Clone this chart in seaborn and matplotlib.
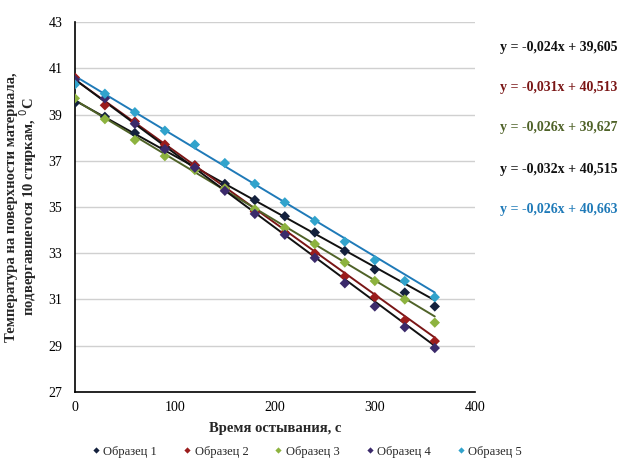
import numpy as np
import pandas as pd
import matplotlib
matplotlib.use('Agg')
import matplotlib.pyplot as plt
import seaborn as sns

# Данные
time_s = [0, 30, 60, 90, 120, 150, 180, 210, 240, 270, 300, 330, 360]
sample_1 = [39.5, 38.9, 38.2, 37.6, 36.8, 36.0, 35.3, 34.6, 33.9, 33.1, 32.3, 31.3, 30.7]
sample_2 = [40.6, 39.4, 38.7, 37.7, 36.8, 35.8, 34.8, 33.9, 33.0, 32.0, 31.1, 30.1, 29.2]
sample_3 = [39.7, 38.8, 37.9, 37.2, 36.6, 35.8, 34.9, 34.1, 33.4, 32.6, 31.8, 31.0, 30.0]
sample_4 = [40.5, 39.7, 38.6, 37.5, 36.7, 35.7, 34.7, 33.8, 32.8, 31.7, 30.7, 29.8, 28.9]
sample_5 = [40.3, 39.9, 39.1, 38.3, 37.7, 36.9, 36.0, 35.2, 34.4, 33.5, 32.7, 31.8, 31.1]
labels = ['Образец 1', 'Образец 2', 'Образец 3', 'Образец 4', 'Образец 5']

# коэффициенты линий тренда (из уравнений на графике)
slopes = [-0.024, -0.031, -0.026, -0.032, -0.026]
intercepts = [39.605, 40.513, 39.627, 40.515, 40.663]
equations = ['y = -0,024x + 39,605', 'y = -0,031x + 40,513', 'y = -0,026x + 39,627',
             'y = -0,032x + 40,515', 'y = -0,026x + 40,663']

point_colors = ['#14213d', '#9b1c1c', '#8db33f', '#3b2a6b', '#31a3cc']
trend_colors = ['#111111', '#7a1616', '#4f6228', '#111111', '#1f7ab8']
eq_colors = ['#111111', '#7a1616', '#4f6228', '#111111', '#1f7ab8']

series = [sample_1, sample_2, sample_3, sample_4, sample_5]
df = pd.concat([pd.DataFrame({'t': time_s, 'T': s, 'Образец': lab})
                for s, lab in zip(series, labels)], ignore_index=True)

sns.set_style('white')
plt.rcParams['font.family'] = ['Liberation Serif', 'DejaVu Serif']

fig = plt.figure(figsize=(6.19, 4.59), dpi=100)
ax = fig.add_axes([0.121, 0.146, 0.646, 0.806])

# линии тренда
for k in range(5):
    xs = np.array([time_s[0], time_s[-1]])
    ax.plot(xs, slopes[k] * xs + intercepts[k], color=trend_colors[k], lw=1.4, zorder=2)

sns.scatterplot(data=df, x='t', y='T', hue='Образец', palette=point_colors,
                marker='D', s=28, edgecolor='none', ax=ax, zorder=3)

ax.set_xlim(0, 400)
ax.set_ylim(27, 43)
ax.set_xticks(range(0, 401, 100))
ax.set_yticks(range(27, 44, 2))
ax.yaxis.grid(True, color='#d0d0d0', lw=1)
ax.xaxis.grid(False)
for sp in ['top', 'right']:
    ax.spines[sp].set_visible(False)
for sp in ['left', 'bottom']:
    ax.spines[sp].set_color('black')
    ax.spines[sp].set_linewidth(1.2)
ax.tick_params(axis='both', direction='inout', length=6, width=1, labelsize=10, colors='black')
ax.tick_params(axis='y', pad=6)

ax.set_xlabel('Время остывания, с', fontsize=10.5, fontweight='bold', labelpad=6)
ax.set_ylabel('Температура на поверхности материала,\nподвергавшегося 10 стиркам, $^0$С',
              fontsize=10.5, fontweight='bold', labelpad=7, linespacing=0.95)

leg = ax.legend(loc='center', ncol=5, frameon=False,
                fontsize=9, handletextpad=0.2, columnspacing=2.0, handlelength=0.8,
                markerscale=0.6)
leg.set_bbox_to_anchor((0.495, 0.016), transform=fig.transFigure)

eq_y = [47, 87, 127, 170, 210]
for k in range(5):
    fig.text(500 / 619, 1 - eq_y[k] / 459, equations[k], color=eq_colors[k],
             fontsize=10, fontweight='bold', va='center', ha='left')

fig.savefig('out.png', dpi=100)
